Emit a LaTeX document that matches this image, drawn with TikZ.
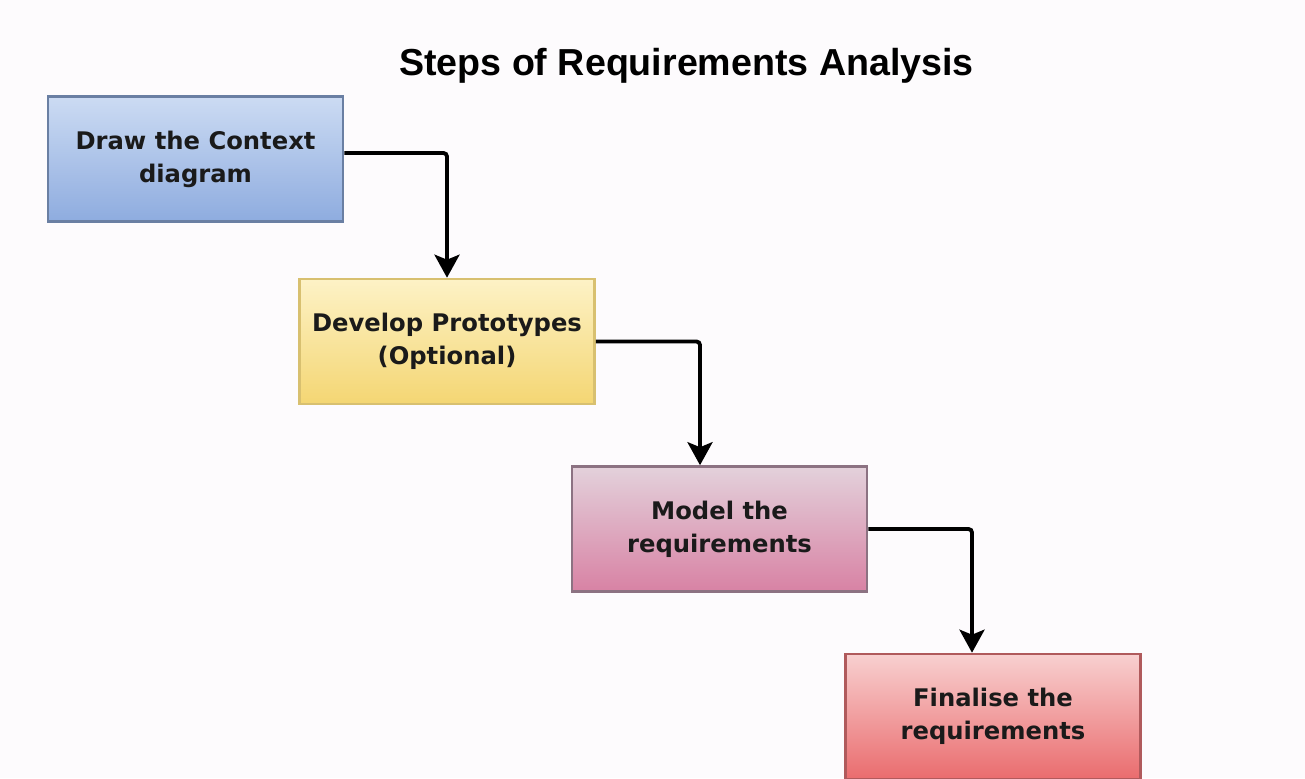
\documentclass[tikz,border=0pt]{standalone}
\usepackage{fontspec}
\setmainfont{DejaVu Sans}
\newfontfamily\titlefont{Liberation Sans}
\usetikzlibrary{arrows.meta}
\definecolor{paper}{HTML}{FDFBFD}
\definecolor{bluetop}{HTML}{CCDBF3}
\definecolor{bluebot}{HTML}{8EACDF}
\definecolor{blueline}{HTML}{6A7FA3}
\definecolor{yellowtop}{HTML}{FDF2C6}
\definecolor{yellowbot}{HTML}{F4D673}
\definecolor{yellowline}{HTML}{D8C070}
\definecolor{pinktop}{HTML}{E3D1DB}
\definecolor{pinkbot}{HTML}{D882A4}
\definecolor{pinkline}{HTML}{8C7282}
\definecolor{redtop}{HTML}{F8D0D0}
\definecolor{redbot}{HTML}{EA6C6E}
\definecolor{redline}{HTML}{B05A5C}
\definecolor{ink}{HTML}{1A1A1A}

\begin{document}
\begin{tikzpicture}[x=0.02cm,y=-0.02cm,
        stepbox/.style={line width=1.5pt,minimum width=5.9cm,minimum height=2.5cm,
          align=center,text=ink,font=\bfseries\fontsize{13.8}{18.8}\selectfont},
        flow/.style={line width=2.2pt,rounded corners=2pt,
          -{Stealth[length=0.46cm,width=0.5cm,inset=0.1cm]}}]
        \fill [paper] (0,0) rectangle (1305,778);
        \useasboundingbox (0,0) rectangle (1305,778);
        \node (title) [anchor=base,font=\titlefont\bfseries\fontsize{21.4}{25}\selectfont] at (686.5,75) {Steps of Requirements Analysis};
        \node (context) [stepbox,draw=blueline,top color=bluetop,bottom color=bluebot] at (195.5,159) {Draw the Context\\diagram};
        \node (proto) [stepbox,draw=yellowline,top color=yellowtop,bottom color=yellowbot] at (447,341.5) {Develop Prototypes\\(Optional)};
        \node (model) [stepbox,draw=pinkline,top color=pinktop,bottom color=pinkbot] at (719.5,529) {Model the\\requirements};
        \node (final) [stepbox,draw=redline,top color=redtop,bottom color=redbot] at (993,716.5) {Finalise the\\requirements};
        \draw [flow] ([yshift=0.12cm]context.east) -| (proto.north);
        \draw [flow] (proto.east) -| ([xshift=-0.39cm]model.north);
        \draw [flow] (model.east) -| ([xshift=-0.42cm]final.north);
\end{tikzpicture}
\end{document}
